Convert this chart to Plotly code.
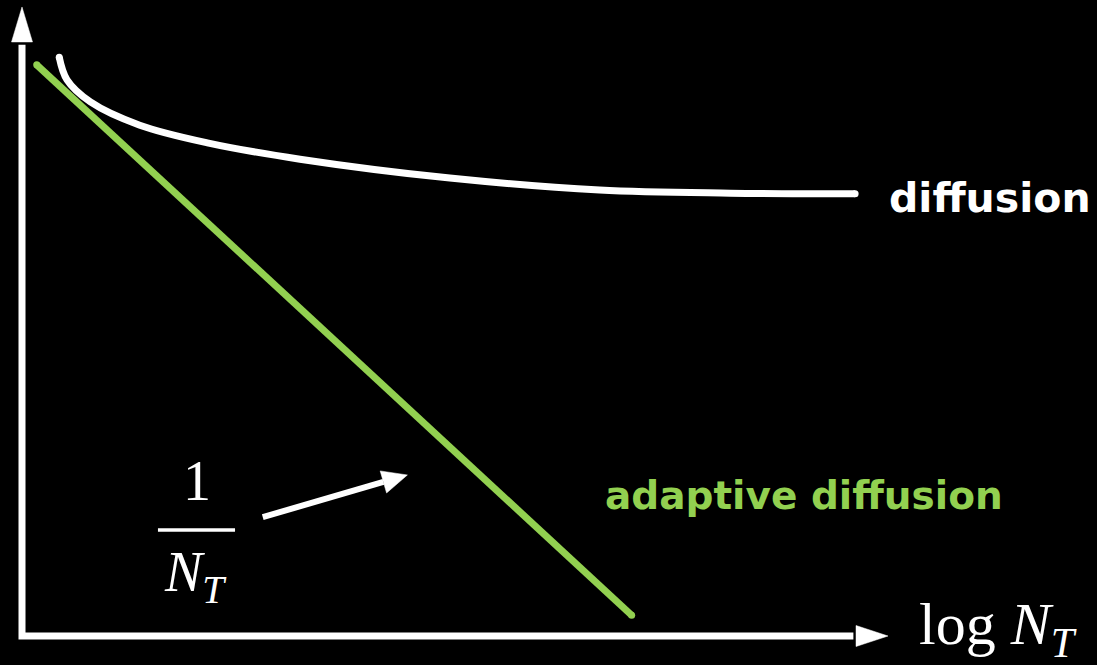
import plotly.graph_objects as go

# --- data (log N_T on x, error on y; arbitrary units) ---
diffusion_x = [0.43, 0.52, 0.79, 1.36, 2.14, 3.21, 4.94, 6.67, 8.18, 9.62]
diffusion_y = [9.20, 8.84, 8.49, 8.12, 7.84, 7.58, 7.28, 7.09, 7.04, 7.03]
adaptive_x = [0.17, 7.04]
adaptive_y = [9.08, 0.33]

# --- layout constants ---
W, H = 1097, 665
X_RANGE = [-0.254, 12.413]
Y_RANGE = [-0.461, 10.111]
SX = W / (X_RANGE[1] - X_RANGE[0])   # pixels per x unit
SY = H / (Y_RANGE[1] - Y_RANGE[0])   # pixels per y unit

WHITE = "#FFFFFF"
GREEN = "#92D050"
AXIS_W = 7


def arrow_head(tip, tail, length_px, half_w_px):
    """Triangle (in data units) pointing at `tip`, coming from `tail`."""
    dx = (tip[0] - tail[0]) * SX
    dy = (tip[1] - tail[1]) * SY
    n = (dx * dx + dy * dy) ** 0.5
    ux, uy = dx / n, dy / n
    bx, by = -ux * length_px, -uy * length_px
    px, py = -uy * half_w_px, ux * half_w_px
    xs = [tip[0], tip[0] + (bx + px) / SX, tip[0] + (bx - px) / SX, tip[0]]
    ys = [tip[1], tip[1] + (by + py) / SY, tip[1] + (by - py) / SY, tip[1]]
    return xs, ys


def tri_trace(xs, ys):
    return go.Scatter(x=xs, y=ys, mode="lines", fill="toself", fillcolor=WHITE,
                      line=dict(color=WHITE, width=0.5), hoverinfo="skip",
                      showlegend=False)


fig = go.Figure()

# axes with arrow heads
AX_TIP = 10.0
fig.add_trace(go.Scatter(x=[0, 0, AX_TIP - 0.4], y=[AX_TIP - 0.6, 0, 0], mode="lines",
                         line=dict(color=WHITE, width=AXIS_W), hoverinfo="skip",
                         showlegend=False))
fig.add_trace(tri_trace(*arrow_head((0, AX_TIP), (0, 0), 35, 10.5)))
fig.add_trace(tri_trace(*arrow_head((AX_TIP, 0), (0, 0), 32, 10.5)))

# diffusion curve (rounded ends via end markers)
fig.add_trace(go.Scatter(x=diffusion_x, y=diffusion_y, mode="lines",
                         line=dict(color=WHITE, width=7, shape="spline", smoothing=1.0),
                         hoverinfo="skip", showlegend=False))
fig.add_trace(go.Scatter(x=[diffusion_x[0], diffusion_x[-1]],
                         y=[diffusion_y[0], diffusion_y[-1]], mode="markers",
                         marker=dict(color=WHITE, size=7, line=dict(width=0)),
                         hoverinfo="skip", showlegend=False))

# adaptive diffusion line
fig.add_trace(go.Scatter(x=adaptive_x, y=adaptive_y, mode="lines+markers",
                         line=dict(color=GREEN, width=7),
                         marker=dict(color=GREEN, size=7, line=dict(width=0)),
                         hoverinfo="skip", showlegend=False))

# pointer arrow from the 1/N_T label to the green line
ptr_tail = (2.78, 1.89)
ptr_tip = (4.45, 2.56)
hx, hy = arrow_head(ptr_tip, ptr_tail, 25, 11.5)
base_x = (hx[1] + hx[2]) / 2
base_y = (hy[1] + hy[2]) / 2
fig.add_trace(go.Scatter(x=[ptr_tail[0], base_x], y=[ptr_tail[1], base_y], mode="lines",
                         line=dict(color=WHITE, width=6), hoverinfo="skip",
                         showlegend=False))
fig.add_trace(tri_trace(hx, hy))

# fraction bar of 1/N_T
fig.add_shape(type="line", x0=1.57, x1=2.46, y0=1.685, y1=1.685,
              line=dict(color=WHITE, width=3.5))

SERIF = "Liberation Serif, DejaVu Serif, serif"
SANS_B = "DejaVu Sans, Open Sans, sans-serif"

annotations = [
    dict(x=9.99, y=6.96, text="<b>diffusion</b>", xanchor="left", yanchor="middle",
         font=dict(family=SANS_B, size=41, color=WHITE)),
    dict(x=6.71, y=2.24, text="<b>adaptive diffusion</b>", xanchor="left", yanchor="middle",
         font=dict(family=SANS_B, size=39, color=GREEN)),
    dict(x=2.02, y=2.47, text="1", xanchor="center", yanchor="middle",
         font=dict(family=SERIF, size=56, color=WHITE)),
    dict(x=2.0, y=0.95, text="<i>N<sub>T</sub></i>", xanchor="center", yanchor="middle",
         font=dict(family=SERIF, size=56, color=WHITE)),
    dict(x=10.33, y=0.12, text="log <i>N<sub>T</sub></i>", xanchor="left", yanchor="middle",
         font=dict(family=SERIF, size=60, color=WHITE)),
]
for a in annotations:
    a.update(xref="x", yref="y", showarrow=False)

fig.update_layout(
    width=W, height=H, autosize=False,
    margin=dict(l=0, r=0, t=0, b=0, pad=0),
    paper_bgcolor="black", plot_bgcolor="black",
    xaxis=dict(range=X_RANGE, visible=False, fixedrange=True),
    yaxis=dict(range=Y_RANGE, visible=False, fixedrange=True),
    annotations=annotations,
    showlegend=False,
)

fig.write_html("out.html", config={"displayModeBar": False})
